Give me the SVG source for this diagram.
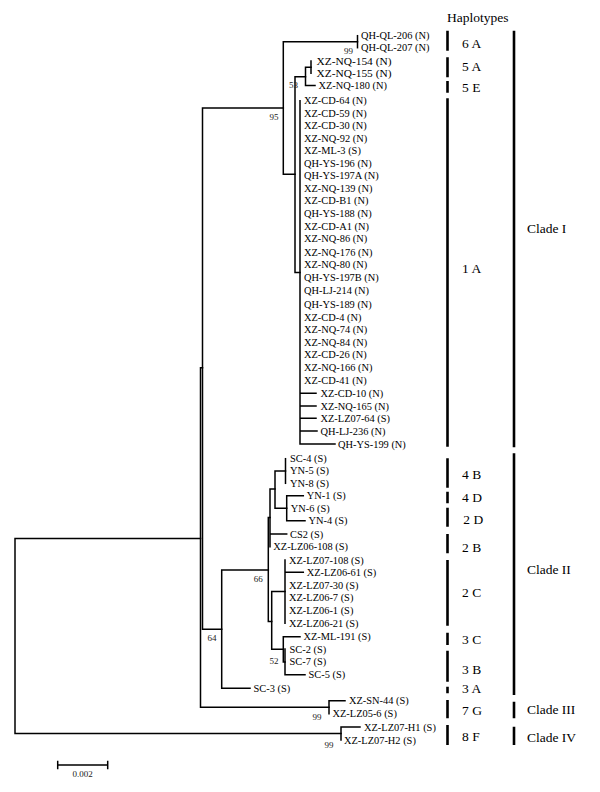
<svg xmlns="http://www.w3.org/2000/svg" width="600" height="792" viewBox="0 0 600 792">
<style>
.br{fill:none;stroke:#000;stroke-width:1.5;stroke-linecap:square}
.bar{fill:none;stroke:#000;stroke-width:2.6}
.t{font-family:"Liberation Serif","Times New Roman",serif;font-size:10.4px;fill:#000}
.tb{font-size:11.4px}
.bs{font-family:"Liberation Serif","Times New Roman",serif;font-size:9px;fill:#222}
.h{font-family:"Liberation Serif","Times New Roman",serif;font-size:13.5px;fill:#000}
</style>
<rect width="600" height="792" fill="#fff"/>
<g id="connectors">
<path class="br" d="M15,538.5V733.5M15,538.5H200.5M15,733.5H341"/>
<path class="br" d="M200.5,367.7V707.2M200.5,367.7H202.5M200.5,707.2H329"/>
<path class="br" d="M202.5,108V629.3M202.5,108H283.3M202.5,629.3H221.7"/>
<path class="br" d="M283.3,41.7V174.3M283.3,41.7H357.5M283.3,174.3H295"/>
<path class="br" d="M357.5,35.7V47.7"/>
<path class="br" d="M295,76.7V272.4M295,76.7H305.5M295,272.4H300"/>
<path class="br" d="M305.5,67.2V85.5M305.5,67.2H311M305.5,85.5H315"/>
<path class="br" d="M311,61V73.3"/>
<path class="br" d="M300,100.7V444M300,393.3H316M300,406H316M300,418.3H316M300,431H317M300,444H335"/>
<path class="br" d="M221.7,570V688.3M221.7,570H268.3M221.7,688.3H250"/>
<path class="br" d="M268.3,517.5V621.5M268.3,517.5H270M268.3,621.5H271.7"/>
<path class="br" d="M270,489V546.7M270,489H275M270,534H286.7"/>
<path class="br" d="M275,471V508.2M275,471H285.5M275,508.2H286.7"/>
<path class="br" d="M285.5,458.7V483.3"/>
<path class="br" d="M286.7,495.7V520.7M286.7,495.7H303.3M286.7,520.7H305"/>
<path class="br" d="M271.7,591.5V649.3M271.7,591.5H285M271.7,649.3H283.3"/>
<path class="br" d="M285,560V623.3M285,572.3H303.3"/>
<path class="br" d="M283.3,636.7V662M283.3,636.7H300M283.3,662H285"/>
<path class="br" d="M285,649V674.7M285,674.7H305"/>
<path class="br" d="M329,700.7V713.7M329,700.7H345"/>
<path class="br" d="M341,727V740M341,727H360"/>
<path class="br" d="M57.7,765H107.7M57.7,761.5V768.5M107.7,761.5V768.5"/>
</g>
<g id="tips">
<g id="tip-QH-QL-206"><text class="t" x="361" y="39.3">QH-QL-206  (N)</text></g>
<g id="tip-QH-QL-207"><text class="t" x="361" y="51.3">QH-QL-207 (N)</text></g>
<g id="tip-XZ-NQ-154"><text class="t tb" x="316.5" y="64.8">XZ-NQ-154 (N)</text></g>
<g id="tip-XZ-NQ-155"><text class="t tb" x="316.5" y="77.1">XZ-NQ-155 (N)</text></g>
<g id="tip-XZ-NQ-180"><text class="t" x="318.5" y="89.2">XZ-NQ-180 (N)</text></g>
<g id="tip-XZ-CD-64"><text class="t" x="304" y="104.4">XZ-CD-64 (N)</text></g>
<g id="tip-XZ-CD-59"><text class="t" x="304" y="117">XZ-CD-59 (N)</text></g>
<g id="tip-XZ-CD-30"><text class="t" x="304" y="129.4">XZ-CD-30 (N)</text></g>
<g id="tip-XZ-NQ-92"><text class="t" x="304" y="142">XZ-NQ-92 (N)</text></g>
<g id="tip-XZ-ML-3"><text class="t" x="304" y="154.4">XZ-ML-3 (S)</text></g>
<g id="tip-QH-YS-196"><text class="t" x="304" y="166.7">QH-YS-196 (N)</text></g>
<g id="tip-QH-YS-197A"><text class="t" x="304" y="179">QH-YS-197A  (N)</text></g>
<g id="tip-XZ-NQ-139"><text class="t" x="304" y="191.7">XZ-NQ-139 (N)</text></g>
<g id="tip-XZ-CD-B1"><text class="t" x="304" y="204">XZ-CD-B1 (N)</text></g>
<g id="tip-QH-YS-188"><text class="t" x="304" y="216.7">QH-YS-188 (N)</text></g>
<g id="tip-XZ-CD-A1"><text class="t" x="304" y="230">XZ-CD-A1 (N)</text></g>
<g id="tip-XZ-NQ-86"><text class="t" x="304" y="242.4">XZ-NQ-86 (N)</text></g>
<g id="tip-XZ-NQ-176"><text class="t" x="304" y="255.7">XZ-NQ-176 (N)</text></g>
<g id="tip-XZ-NQ-80"><text class="t" x="304" y="268.4">XZ-NQ-80 (N)</text></g>
<g id="tip-QH-YS-197B"><text class="t" x="304" y="281.4">QH-YS-197B (N)</text></g>
<g id="tip-QH-LJ-214"><text class="t" x="304" y="294">QH-LJ-214 (N)</text></g>
<g id="tip-QH-YS-189"><text class="t" x="304" y="308">QH-YS-189 (N)</text></g>
<g id="tip-XZ-CD-4"><text class="t" x="304" y="320.7">XZ-CD-4 (N)</text></g>
<g id="tip-XZ-NQ-74"><text class="t" x="304" y="333.4">XZ-NQ-74 (N)</text></g>
<g id="tip-XZ-NQ-84"><text class="t" x="304" y="345.7">XZ-NQ-84 (N)</text></g>
<g id="tip-XZ-CD-26"><text class="t" x="304" y="358.4">XZ-CD-26 (N)</text></g>
<g id="tip-XZ-NQ-166"><text class="t" x="304" y="371">XZ-NQ-166 (N)</text></g>
<g id="tip-XZ-CD-41"><text class="t" x="304" y="384.4">XZ-CD-41 (N)</text></g>
<g id="tip-XZ-CD-10"><text class="t" x="320.5" y="397">XZ-CD-10 (N)</text></g>
<g id="tip-XZ-NQ-165"><text class="t" x="320.5" y="409.7">XZ-NQ-165 (N)</text></g>
<g id="tip-XZ-LZ07-64"><text class="t" x="320.5" y="422">XZ-LZ07-64 (S)</text></g>
<g id="tip-QH-LJ-236"><text class="t" x="320.5" y="434.7">QH-LJ-236 (N)</text></g>
<g id="tip-QH-YS-199"><text class="t" x="338" y="447.7">QH-YS-199 (N)</text></g>
<g id="tip-SC-4"><text class="t" x="290" y="462.4">SC-4 (S)</text></g>
<g id="tip-YN-5"><text class="t" x="290" y="474.4">YN-5 (S)</text></g>
<g id="tip-YN-8"><text class="t" x="290" y="487">YN-8 (S)</text></g>
<g id="tip-YN-1"><text class="t" x="306.7" y="499.4">YN-1 (S)</text></g>
<g id="tip-YN-6"><text class="t" x="290.7" y="512">YN-6 (S)</text></g>
<g id="tip-YN-4"><text class="t" x="308.5" y="524.4">YN-4 (S)</text></g>
<g id="tip-CS2"><text class="t" x="290" y="537.7">CS2 (S)</text></g>
<g id="tip-XZ-LZ06-108"><text class="t" x="273.3" y="550.4">XZ-LZ06-108 (S)</text></g>
<g id="tip-XZ-LZ07-108"><text class="t" x="289" y="563.7">XZ-LZ07-108 (S)</text></g>
<g id="tip-XZ-LZ06-61"><text class="t" x="306.7" y="576">XZ-LZ06-61 (S)</text></g>
<g id="tip-XZ-LZ07-30"><text class="t" x="289" y="588.9">XZ-LZ07-30 (S)</text></g>
<g id="tip-XZ-LZ06-7"><text class="t" x="289" y="601.4">XZ-LZ06-7 (S)</text></g>
<g id="tip-XZ-LZ06-1"><text class="t" x="289" y="614.4">XZ-LZ06-1 (S)</text></g>
<g id="tip-XZ-LZ06-21"><text class="t" x="289" y="627">XZ-LZ06-21 (S)</text></g>
<g id="tip-XZ-ML-191"><text class="t" x="303.5" y="640.4">XZ-ML-191 (S)</text></g>
<g id="tip-SC-2"><text class="t" x="289.5" y="652.7">SC-2 (S)</text></g>
<g id="tip-SC-7"><text class="t" x="289.5" y="665.4">SC-7 (S)</text></g>
<g id="tip-SC-5"><text class="t" x="308.5" y="678.4">SC-5 (S)</text></g>
<g id="tip-SC-3"><text class="t" x="253.5" y="692">SC-3 (S)</text></g>
<g id="tip-XZ-SN-44"><text class="t" x="349" y="704.4">XZ-SN-44 (S)</text></g>
<g id="tip-XZ-LZ05-6"><text class="t" x="332.5" y="717.4">XZ-LZ05-6 (S)</text></g>
<g id="tip-XZ-LZ07-H1"><text class="t" x="364" y="730.7">XZ-LZ07-H1 (S)</text></g>
<g id="tip-XZ-LZ07-H2"><text class="t" x="344" y="743.7">XZ-LZ07-H2 (S)</text></g>
</g>
<g id="support">
<text class="bs" x="348.5" y="54.3" text-anchor="middle">99</text>
<text class="bs" x="293.5" y="88" text-anchor="middle">53</text>
<text class="bs" x="274" y="120" text-anchor="middle">95</text>
<text class="bs" x="258.3" y="581.5" text-anchor="middle">66</text>
<text class="bs" x="212" y="641" text-anchor="middle">64</text>
<text class="bs" x="274" y="663.5" text-anchor="middle">52</text>
<text class="bs" x="317" y="720" text-anchor="middle">99</text>
<text class="bs" x="329" y="747.5" text-anchor="middle">99</text>
</g>
<g id="scale">
<text class="bs" x="82.7" y="777.3" text-anchor="middle" font-size="9.5">0.002</text>
</g>
<g id="haplotypes">
<text class="h" x="447" y="22">Haplotypes</text>
<path class="bar" d="M447.5,30.7V50.7M447.5,57.3V77.3M447.5,81V92.7M447.5,98.3V446.7M447.5,458.3V487.7M447.5,491.7V503.3M447.5,507.7V526.7M447.5,534V553.3M447.5,560V625.7M447.5,632.7V645M447.5,650.7V681.7M447.5,686.7V693.3M447.5,700V718.3M447.5,725V745"/>
<text class="h" x="462" y="47.8">6 A</text>
<text class="h" x="462" y="71.2">5 A</text>
<text class="h" x="462" y="92.2">5 E</text>
<text class="h" x="462" y="272.8">1 A</text>
<text class="h" x="462" y="478.8">4 B</text>
<text class="h" x="462" y="502.2">4 D</text>
<text class="h" x="463.3" y="523.5">2 D</text>
<text class="h" x="462" y="551.8">2 B</text>
<text class="h" x="462" y="597.2">2 C</text>
<text class="h" x="462" y="643.5">3 C</text>
<text class="h" x="462" y="673.5">3 B</text>
<text class="h" x="462" y="692.8">3 A</text>
<text class="h" x="462" y="714.5">7 G</text>
<text class="h" x="462" y="741.2">8 F</text>
</g>
<g id="clades">
<path class="bar" d="M514,30.7V447.3M514,453.3V695M514,701.7V718.3M514,726.7V745"/>
<text class="h" x="527" y="232.8">Clade I</text>
<text class="h" x="527" y="573.5">Clade II</text>
<text class="h" x="527" y="713.8">Clade III</text>
<text class="h" x="527" y="741.5">Clade IV</text>
</g>
</svg>
